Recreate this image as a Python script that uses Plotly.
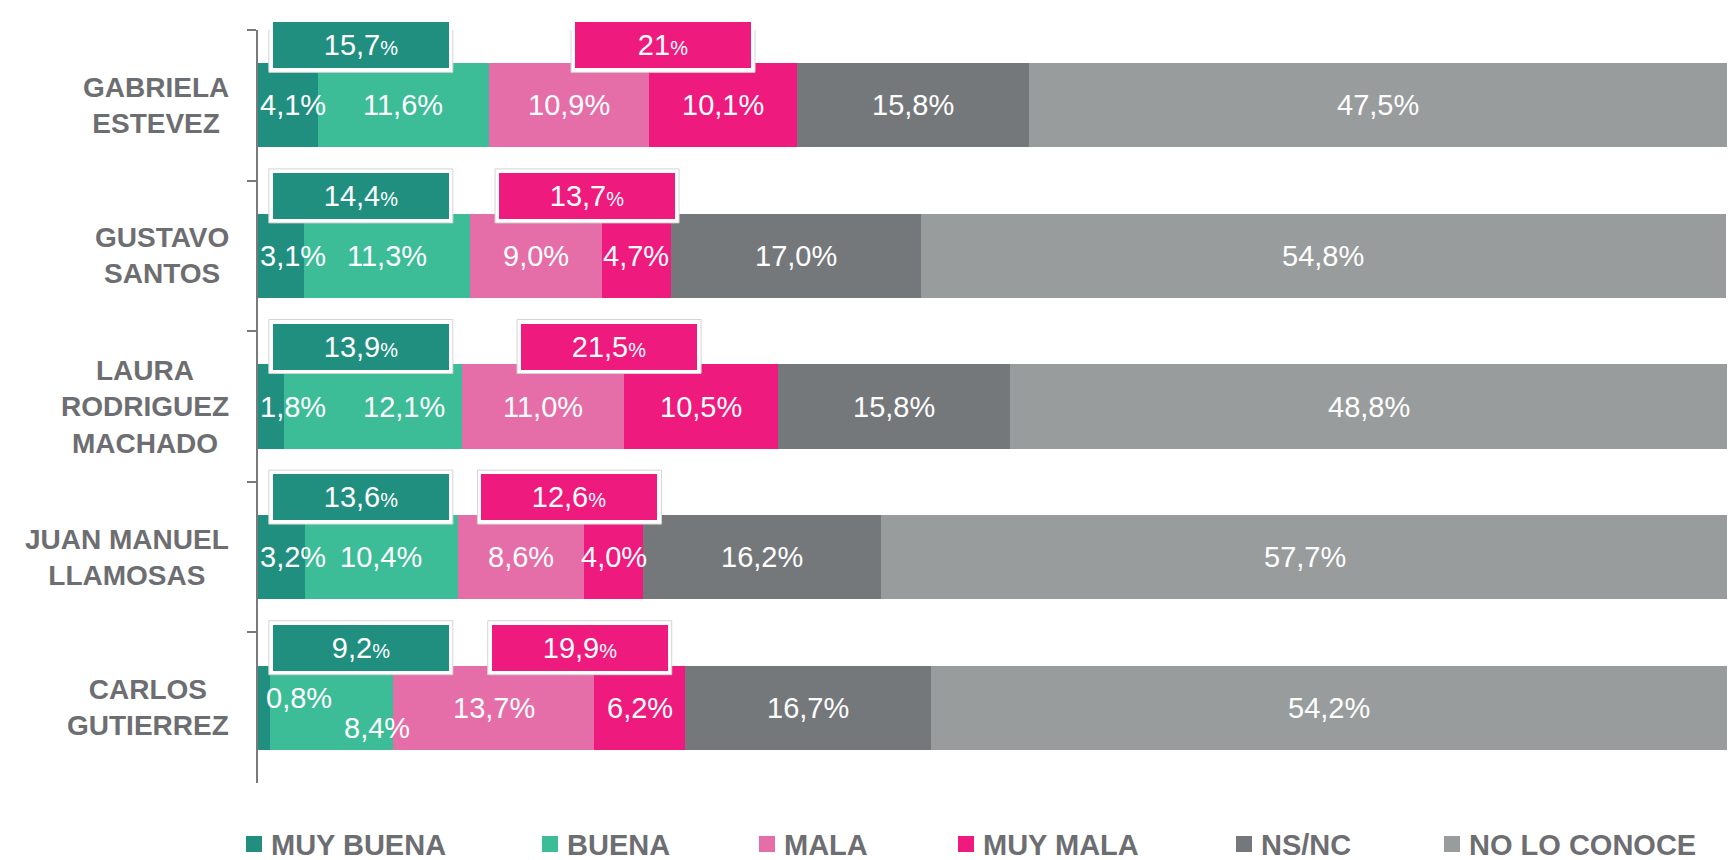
import plotly.graph_objects as go

# ---------------- data ----------------
candidates = [
    "GABRIELA<br>ESTEVEZ",
    "GUSTAVO<br>SANTOS",
    "LAURA<br>RODRIGUEZ<br>MACHADO",
    "JUAN MANUEL<br>LLAMOSAS",
    "CARLOS<br>GUTIERREZ",
]
series_names = ["MUY BUENA", "BUENA", "MALA", "MUY MALA", "NS/NC", "NO LO CONOCE"]
muy_buena = [4.1, 3.1, 1.8, 3.2, 0.8]
buena = [11.6, 11.3, 12.1, 10.4, 8.4]
mala = [10.9, 9.0, 11.0, 8.6, 13.7]
muy_mala = [10.1, 4.7, 10.5, 4.0, 6.2]
ns_nc = [15.8, 17.0, 15.8, 16.2, 16.7]
no_lo_conoce = [47.5, 54.8, 48.8, 57.7, 54.2]
positivo_labels = ["15,7", "14,4", "13,9", "13,6", "9,2"]
negativo_labels = ["21", "13,7", "21,5", "12,6", "19,9"]

series_values = [muy_buena, buena, mala, muy_mala, ns_nc, no_lo_conoce]

# ---------------- style ----------------
W, H = 1736, 860
ML, MR, MT, MB = 258, 9, 30, 77
colors = ["#208f80", "#3cbd97", "#e66ea8", "#ee1a7e", "#75787b", "#999c9d"]
TEAL, MAGENTA = colors[0], colors[3]
GRAY_TEXT = "#6d6e71"
AXIS_GRAY = "#7a7a7a"
FONT = "Liberation Sans, Arial, sans-serif"
VAL_SIZE = 29
MIN_LABEL_X = 2.4            # smallest x-center for a value label
# (row, series) -> (xshift px, yshift px) tweaks for crowded labels
label_tweaks = {(2, 1): (31, 0), (4, 0): (6, 10), (4, 1): (46, -20)}
POS_BOX_X = 7.0              # data x of the positive callout box
NEG_BOX_OFFSET = -1.0        # relative to mala/muy-mala boundary
neg_box_tweak_px = {0: 29}
BOX_W, BOX_H, BOX_LIFT = 176, 46, 60
legend_x_px = [246, 542, 759, 958, 1236, 1444]
LEGEND_Y_PX = 844
LEGEND_SQ = 16


def paper_x(px):
    return (px - ML) / (W - ML - MR)


def paper_y(py):
    return (H - MB - py) / (H - MT - MB)


fig = go.Figure()
for name, vals, col in zip(series_names, series_values, colors):
    fig.add_trace(go.Bar(
        y=candidates, x=vals, name=name, orientation="h",
        marker=dict(color=col, line=dict(width=0)),
        showlegend=False, hovertemplate="%{y}: %{x}%<extra>" + name + "</extra>",
    ))

annotations = []
shapes = []

# value labels inside bars
for r, cand in enumerate(candidates):
    cum = 0.0
    for s, vals in enumerate(series_values):
        v = vals[r]
        mid = cum + v / 2
        cum += v
        if s == 0:
            mid = max(mid, MIN_LABEL_X)
        dx, dy = label_tweaks.get((r, s), (0, 0))
        annotations.append(dict(
            x=mid, y=cand, xref="x", yref="y", showarrow=False,
            text=f"{v:.1f}".replace(".", ",") + "%",
            font=dict(family=FONT, size=VAL_SIZE, color="white"),
            xshift=dx, yshift=dy, xanchor="center", yanchor="middle",
        ))

# callout boxes
for r, cand in enumerate(candidates):
    boundary = muy_buena[r] + buena[r] + mala[r]
    boxes = [
        (POS_BOX_X, 0, TEAL, positivo_labels[r]),
        (boundary + NEG_BOX_OFFSET, neg_box_tweak_px.get(r, 0), MAGENTA, negativo_labels[r]),
    ]
    for bx, shift, col, lbl in boxes:
        shapes.append(dict(
            type="rect", xref="x", yref="y", xsizemode="pixel", ysizemode="pixel",
            xanchor=bx, yanchor=cand,
            x0=shift - BOX_W / 2 - 4, x1=shift + BOX_W / 2 + 4,
            y0=BOX_LIFT - BOX_H / 2 - 4, y1=BOX_LIFT + BOX_H / 2 + 4,
            fillcolor="white", line=dict(color="#d4d4d4", width=1), layer="above",
        ))
        annotations.append(dict(
            x=bx, y=cand, xref="x", yref="y", showarrow=False,
            xshift=shift, yshift=BOX_LIFT, xanchor="center", yanchor="middle",
            width=BOX_W, height=BOX_H, bgcolor=col, borderpad=0, borderwidth=0,
            text=f"{lbl}<span style='font-size:20px'>%</span>",
            font=dict(family=FONT, size=VAL_SIZE, color="white"),
            valign="middle",
        ))

# category labels (centered multi-line)
for cand in candidates:
    annotations.append(dict(
        x=0, xref="paper", y=cand, yref="y", showarrow=False,
        xanchor="right", yanchor="middle", xshift=-27, align="center",
        text=cand, font=dict(family=FONT, size=28, color=GRAY_TEXT, weight="bold"),
    ))

# legend
for name, col, lx in zip(series_names, colors, legend_x_px):
    shapes.append(dict(
        type="rect", xref="paper", yref="paper",
        x0=paper_x(lx), x1=paper_x(lx + LEGEND_SQ),
        y0=paper_y(LEGEND_Y_PX + LEGEND_SQ / 2), y1=paper_y(LEGEND_Y_PX - LEGEND_SQ / 2),
        fillcolor=col, line=dict(width=0), layer="above",
    ))
    annotations.append(dict(
        x=paper_x(lx + LEGEND_SQ + 7), y=paper_y(LEGEND_Y_PX + 1), xref="paper", yref="paper",
        showarrow=False, xanchor="left", yanchor="middle", text=name,
        font=dict(family=FONT, size=29, color=GRAY_TEXT, weight="bold"),
    ))

fig.update_layout(
    width=W, height=H, barmode="stack", bargap=0.442,
    margin=dict(l=ML, r=MR, t=MT, b=MB),
    paper_bgcolor="white", plot_bgcolor="white",
    xaxis=dict(range=[0, 100], visible=False, fixedrange=True),
    yaxis=dict(
        type="category", categoryorder="array", categoryarray=candidates,
        range=[len(candidates) - 0.5, -0.5], autorange=False,
        showline=True, linecolor=AXIS_GRAY, linewidth=2,
        ticks="outside", tickson="boundaries", ticklen=9, tickcolor=AXIS_GRAY, tickwidth=2,
        showticklabels=False, showgrid=False, zeroline=False, fixedrange=True,
    ),
    annotations=annotations, shapes=shapes, showlegend=False,
)

fig.write_html(
    "out.html",
    config={"displayModeBar": False},
    post_script="document.body.style.margin='0';document.body.style.overflow='hidden';",
)
